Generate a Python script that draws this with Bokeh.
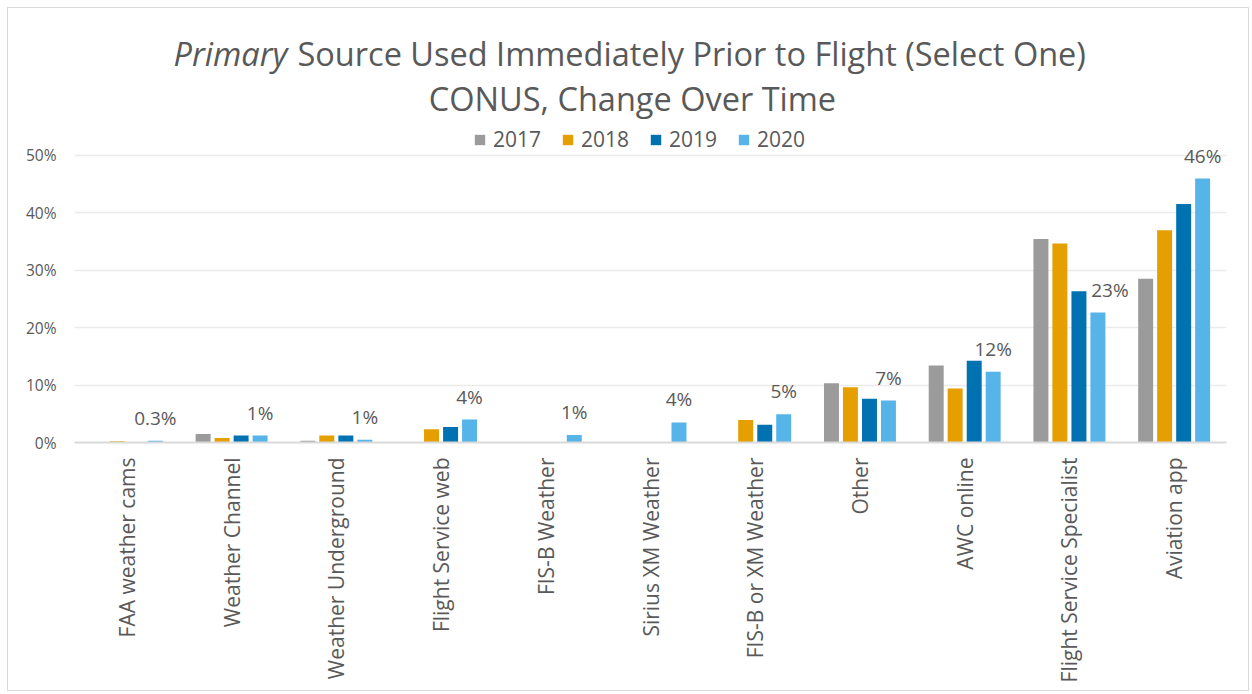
import math
from bokeh.plotting import figure
from bokeh.models import (ColumnDataSource, FactorRange, Range1d, FixedTicker,
                          PrintfTickFormatter, Label)
from bokeh.transform import dodge
from bokeh.core.properties import value
from bokeh.embed import file_html
from bokeh.resources import INLINE

# ---------------- data ----------------
categories = ["FAA weather cams", "Weather Channel", "Weather Underground",
              "Flight Service web", "FIS-B Weather", "Sirius XM Weather",
              "FIS-B or XM Weather", "Other", "AWC online",
              "Flight Service Specialist", "Aviation app"]
years = ["2017", "2018", "2019", "2020"]
v2017 = [0.0, 1.5, 0.3, 0.0, 0.0, 0.0, 0.0, 10.3, 13.4, 35.4, 28.5]
v2018 = [0.2, 0.8, 1.2, 2.3, 0.0, 0.0, 3.9, 9.6, 9.4, 34.6, 36.9]
v2019 = [0.0, 1.2, 1.2, 2.7, 0.0, 0.0, 3.1, 7.6, 14.2, 26.3, 41.5]
v2020 = [0.3, 1.2, 0.5, 4.0, 1.3, 3.5, 4.9, 7.3, 12.3, 22.6, 45.9]
labels_2020 = ["0.3%", "1%", "1%", "4%", "1%", "4%", "5%", "7%", "12%", "23%", "46%"]
y_ticks = [0, 10, 20, 30, 40, 50]
title_italic = "Primary"
title_rest = "Source Used Immediately Prior to Flight (Select One)"
title_line2 = "CONUS, Change Over Time"

# ---------------- styling ----------------
colors = ["#9B9B9B", "#E69F00", "#0072B2", "#56B4E9"]
FONT = "Open Sans"
TXT = "#595959"
label_dx = {"Flight Service Specialist": 12}

src = ColumnDataSource(dict(cat=categories, v2017=v2017, v2018=v2018,
                            v2019=v2019, v2020=v2020, lab=labels_2020,
                            dx=[label_dx.get(c, 0) for c in categories]))

px_per_unit = 5.75  # pixels per 1 percentage point
frame_h = 434
p = figure(x_range=FactorRange(*categories, range_padding=0),
           y_range=Range1d(0, frame_h / px_per_unit),
           width=1240, height=682, output_backend="svg", toolbar_location=None,
           min_border_left=66, min_border_right=22, min_border_top=0,
           min_border_bottom=248, outline_line_color=None,
           background_fill_color="white", border_fill_color="white")
p.styles = {"outline": "1.5px solid #d9d9d9", "margin": "8px"}

offsets = [-0.272, -0.091, 0.091, 0.272]
bw = 0.143
for yr, col, off in zip(years, colors, offsets):
    p.vbar(x=dodge("cat", off, range=p.x_range), top="v" + yr, width=bw,
           source=src, fill_color=col, line_color=None, legend_label=yr)

p.text(x=dodge("cat", offsets[3], range=p.x_range), y="v2020", text="lab",
       x_offset="dx", y_offset=-23, source=src, text_align="center",
       text_baseline="middle", text_font=value(FONT), text_font_size="19px",
       text_color=TXT)

# axes
p.yaxis.ticker = FixedTicker(ticks=y_ticks)
p.yaxis.formatter = PrintfTickFormatter(format="%d%%")
p.yaxis.axis_line_color = None
p.yaxis.major_tick_line_color = None
p.yaxis.minor_tick_line_color = None
p.yaxis.major_tick_out = 0
p.yaxis.major_tick_in = 0
p.yaxis.major_label_standoff = 18
p.yaxis.major_label_text_font = FONT
p.yaxis.major_label_text_font_size = "15.5px"
p.yaxis.major_label_text_color = TXT

p.xaxis.axis_line_color = "#d9d9d9"
p.xaxis.axis_line_width = 2
p.xaxis.major_tick_line_color = None
p.xaxis.minor_tick_line_color = None
p.xaxis.major_tick_out = 0
p.xaxis.major_tick_in = 0
p.xaxis.major_label_orientation = math.pi / 2
p.xaxis.major_label_standoff = 15
p.xaxis.major_label_text_font = FONT
p.xaxis.major_label_text_font_size = "21px"
p.xaxis.major_label_text_color = TXT

p.xgrid.grid_line_color = None
p.ygrid.grid_line_color = "#ebebeb"
p.ygrid.grid_line_width = 1.5

# title (in frame, data coords)
def ypos(page_y):
    return (441.7 - page_y) / px_per_unit

def xpos(page_x):
    return (page_x - 74) / 104.73

TS = "32.5px"
split = xpos(292)
p.add_layout(Label(x=split, y=ypos(53), text=title_italic, text_align="right",
                   x_offset=-5, text_font=FONT, text_font_size=TS,
                   text_font_style="italic", text_color=TXT,
                   text_baseline="alphabetic"))
p.add_layout(Label(x=split, y=ypos(53), text=title_rest, text_align="left",
                   x_offset=5, text_font=FONT, text_font_size=TS,
                   text_color=TXT, text_baseline="alphabetic"))
p.add_layout(Label(x=xpos(632), y=ypos(98), text=title_line2, text_align="center",
                   text_font=FONT, text_font_size=TS, text_color=TXT,
                   text_baseline="alphabetic"))

# legend
lg = p.legend[0]
lg.orientation = "horizontal"
lg.location = (399, 289)
lg.padding = 0
lg.margin = 0
lg.spacing = 20
lg.glyph_width = 13
lg.glyph_height = 13
lg.label_standoff = 7
lg.border_line_color = None
lg.background_fill_alpha = 0
lg.label_text_font = FONT
lg.label_text_font_size = "21px"
lg.label_text_color = TXT

open("out.html", "w").write(file_html(p, INLINE))
